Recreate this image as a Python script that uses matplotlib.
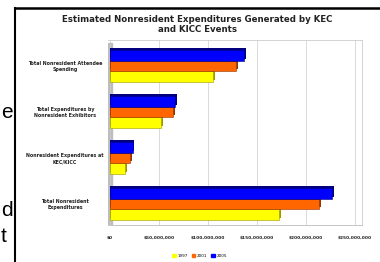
import numpy as np
import matplotlib.pyplot as plt
from matplotlib.patches import Rectangle

# Data (millions of dollars)
categories = ['Total Nonresident Attendee\nSpending',
              'Total Expenditures by\nNonresident Exhibitors',
              'Nonresident Expenditures at\nKEC/KICC',
              'Total Nonresident\nExpenditures']
series_names = ['1997', '2001', '2005']
vals_1997 = [105, 52, 15, 172]
vals_2001 = [129, 64, 20, 213]
vals_2005 = [137, 66, 23, 226]
colors = ['#FFFF00', '#FF6600', '#0000FF']
shadow = ['#9A9A00', '#993300', '#000080']
tick_vals = [0, 50, 100, 150, 200, 250]
tick_labels = ['$0', '$50,000,000', '$100,000,000', '$150,000,000',
               '$200,000,000', '$250,000,000']

W, H = 380, 262
fig = plt.figure(figsize=(W / 100, H / 100), dpi=100)
fig.patch.set_facecolor('white')

# document frame and stray text from the page behind the chart
fig.add_artist(plt.Line2D([15 / W, 15 / W], [0, 1 - 8 / H], color='black', lw=1.5))
fig.add_artist(plt.Line2D([15 / W, 1], [1 - 8 / H, 1 - 8 / H], color='black', lw=1.8))
for ch, yy in [('e', 112), ('d', 211), ('t', 236)]:
    fig.text(1 / W, 1 - yy / H, ch, fontsize=15, va='center', ha='left', family='Liberation Sans')

ax = fig.add_axes([108 / W, 1 - 225 / H, 254 / W, 185 / H])
y = np.arange(len(categories))
h = 0.23
dx, dy = 2.0, 0.04
for vals, off, c, s in zip([vals_1997, vals_2001, vals_2005], [h, 0, -h], colors, shadow):
    # cheap 3d look: darker copy slightly offset behind the bar
    ax.barh(y + off - dy, np.array(vals) + dx, height=h, color=s, left=0, zorder=2)
    ax.barh(y + off, vals, height=h, color=c, edgecolor=s, lw=0.4, zorder=3)

ax.set_ylim(3.46, -0.565)
ax.set_xlim(-2, 257)
ax.set_xticks(tick_vals)
ax.set_xticklabels(tick_labels, fontsize=3.2, fontweight='bold', color='#222222')
ax.set_yticks(y)
ax.set_yticklabels(categories, fontsize=3.4, fontweight='bold', color='#222222', ha='center')
ax.tick_params(axis='y', length=0, pad=31)
ax.tick_params(axis='x', length=0, pad=8)
ax.grid(axis='x', color='#cccccc', lw=0.5, zorder=0)
for sp in ['top', 'right']:
    ax.spines[sp].set_color('#cccccc')
    ax.spines[sp].set_linewidth(0.6)
ax.spines['left'].set_visible(False)
ax.spines['bottom'].set_color('#bbbbbb')
ax.spines['bottom'].set_linewidth(0.6)
# grey side wall
ax.add_patch(Rectangle((-2.5, -0.5), 5, 3.96, color='#bdbdbd', zorder=1))

fig.text(0.52, 1 - 24.5 / H, 'Estimated Nonresident Expenditures Generated by KEC\nand KICC Events',
         ha='center', va='center', fontsize=6.2, fontweight='bold', color='#222222', linespacing=1.25)

handles = [Rectangle((0, 0), 1, 1, color=c) for c in colors]
fig.legend(handles, series_names, loc='center', bbox_to_anchor=(0.525, 1 - 256 / H), ncol=3,
           fontsize=3, frameon=False, handlelength=0.8, handleheight=0.8, columnspacing=1.0,
           handletextpad=0.4)

fig.savefig('out.png', dpi=100)
